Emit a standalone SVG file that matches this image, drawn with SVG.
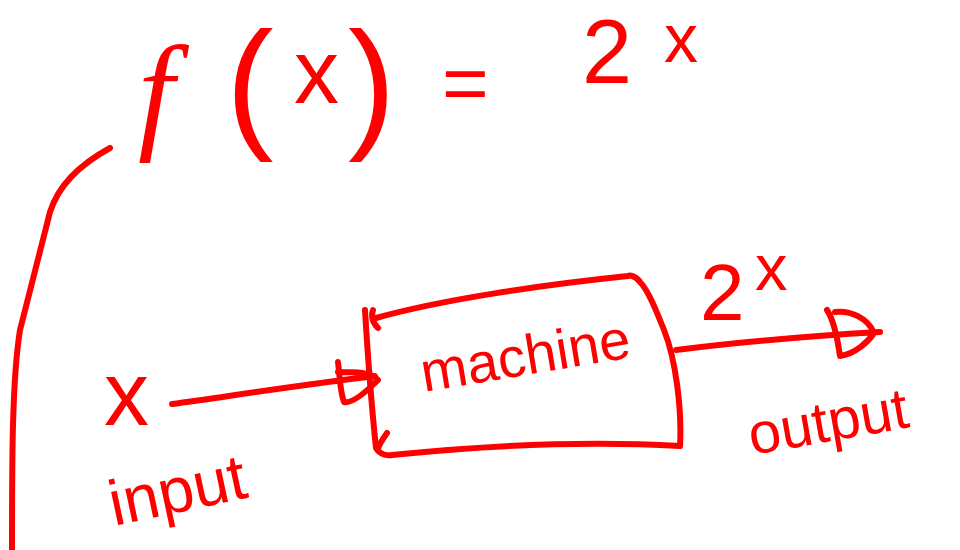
<svg xmlns="http://www.w3.org/2000/svg" width="960" height="550" viewBox="0 0 960 550">
<style>
.ink{fill:none;stroke:#ff0000;stroke-width:6;stroke-linecap:round;stroke-linejoin:round}
.t{fill:#ff0000;font-family:"Liberation Sans",Arial,sans-serif}
.it{font-family:"Liberation Serif","Times New Roman",serif;font-style:italic}
</style>
<rect width="960" height="550" fill="#ffffff"/>
<g id="formula">
<text class="t" font-size="100"><tspan class="it" x="138" y="135" font-size="130">f</tspan><tspan x="226" y="132" font-size="143">(</tspan><tspan x="294" y="103" font-size="90">x</tspan><tspan x="348" y="132" font-size="143">)</tspan><tspan x="442" y="110" font-size="80">=</tspan><tspan x="582" y="83" font-size="90">2</tspan><tspan x="664" y="62" font-size="68">x</tspan></text>
</g>
<g id="connectors">
<path class="ink" d="M110,148 C88,160 60,180 50,212 C40,250 30,290 20,330 C12,380 12,460 12,550"/>
<path id="input-arrow" class="ink" d="M172,404 C230,396 300,385 375,376 M338,362 C340,378 340,392 344,402 C352,404 366,392 378,380 C372,372 355,372 338,372"/>
<path id="output-arrow" class="ink" d="M676,350 C740,342 810,336 880,332 M827,310 C835,322 838,342 840,356 C855,354 868,342 874,333 C868,318 850,310 835,312"/>
</g>
<g id="machine">
<path class="ink" d="M365,310 C368,360 372,410 376,448 C380,455 388,456 392,455 C480,446 580,440 680,446 C682,410 676,360 664,330 C656,310 648,290 640,282 C636,276 630,275 628,276 C540,285 440,300 376,318 M373,310 C371,316 372,322 378,328 M387,433 C382,440 378,446 378,450"/>
<text class="t" font-size="56" transform="translate(424,392) rotate(-9.5)">machine</text>
</g>
<g id="input-label">
<text class="t" font-size="90" x="104" y="425">x</text>
<text class="t" font-size="64" transform="translate(114,526) rotate(-12)">input</text>
</g>
<g id="output-label">
<text class="t" font-size="80" x="700" y="320">2</text>
<text class="t" font-size="65" x="755" y="290">x</text>
<text class="t" font-size="58" transform="translate(752,455) rotate(-10)">output</text>
</g>
</svg>
